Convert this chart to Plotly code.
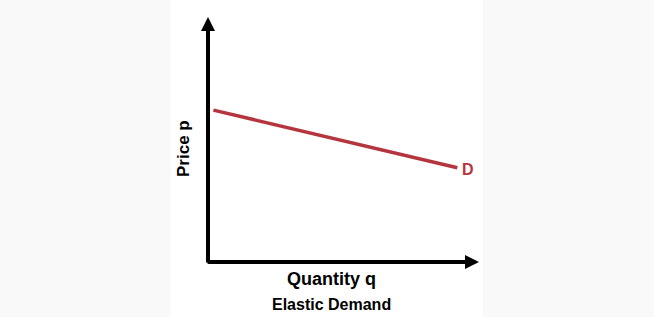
import plotly.graph_objects as go

# Data
quantity = [0.2, 9.2]
price = [6.2, 3.85]
curve_label = "D"
x_title = "Quantity q"
y_title = "Price p"
chart_title = "Elastic Demand"

W, H = 654, 317
# plot area in pixels
x0_px, x1_px = 208, 479
y_top_px, y_bot_px = 17, 262

def px(x):
    return x / W

def py(y):
    return (H - y) / H

fig = go.Figure()
fig.add_trace(go.Scatter(x=quantity, y=price, mode="lines",
                         line=dict(color="#b5353f", width=3.5),
                         hoverinfo="skip", showlegend=False))

font_family = "Liberation Sans, Arial, sans-serif"
annotations = [
    # y axis arrow
    dict(x=0, y=10, ax=0, ay=-0.08, xref="x", yref="y", axref="x", ayref="y",
         showarrow=True, arrowhead=2, arrowsize=0.7, arrowwidth=4, arrowcolor="black", text="", standoff=0),
    # x axis arrow
    dict(x=10, y=0, ax=-0.07, ay=0, xref="x", yref="y", axref="x", ayref="y",
         showarrow=True, arrowhead=2, arrowsize=0.7, arrowwidth=4, arrowcolor="black", text="", standoff=0),
    dict(text=curve_label, x=quantity[-1], y=price[-1], xref="x", yref="y",
         xshift=11, yshift=-2, xanchor="center", yanchor="middle", showarrow=False,
         font=dict(family=font_family, size=16, color="#b5353f", weight=700)),
    dict(text=x_title, x=px(331), y=py(279), xref="paper", yref="paper",
         xanchor="center", yanchor="middle", showarrow=False,
         font=dict(family=font_family, size=18, color="black", weight=700)),
    dict(text=chart_title, x=px(331), y=py(304), xref="paper", yref="paper",
         xanchor="center", yanchor="middle", showarrow=False,
         font=dict(family=font_family, size=16, color="black", weight=700)),
    dict(text=y_title, x=px(183), y=py(149), xref="paper", yref="paper",
         xanchor="center", yanchor="middle", showarrow=False, textangle=-90,
         font=dict(family=font_family, size=17, color="black", weight=700)),
]

fig.update_layout(
    width=W, height=H,
    margin=dict(l=0, r=0, t=0, b=0),
    paper_bgcolor="#f9f9f9",
    plot_bgcolor="rgba(0,0,0,0)",
    xaxis=dict(range=[0, 10], domain=[px(x0_px), px(x1_px)], visible=False, fixedrange=True),
    yaxis=dict(range=[0, 10], domain=[py(y_bot_px), py(y_top_px)], visible=False, fixedrange=True),
    shapes=[dict(type="rect", xref="paper", yref="paper", x0=px(171), x1=px(483), y0=0, y1=1,
                 fillcolor="white", line=dict(width=0), layer="below")],
    annotations=annotations,
)

fig.write_html("out.html")
